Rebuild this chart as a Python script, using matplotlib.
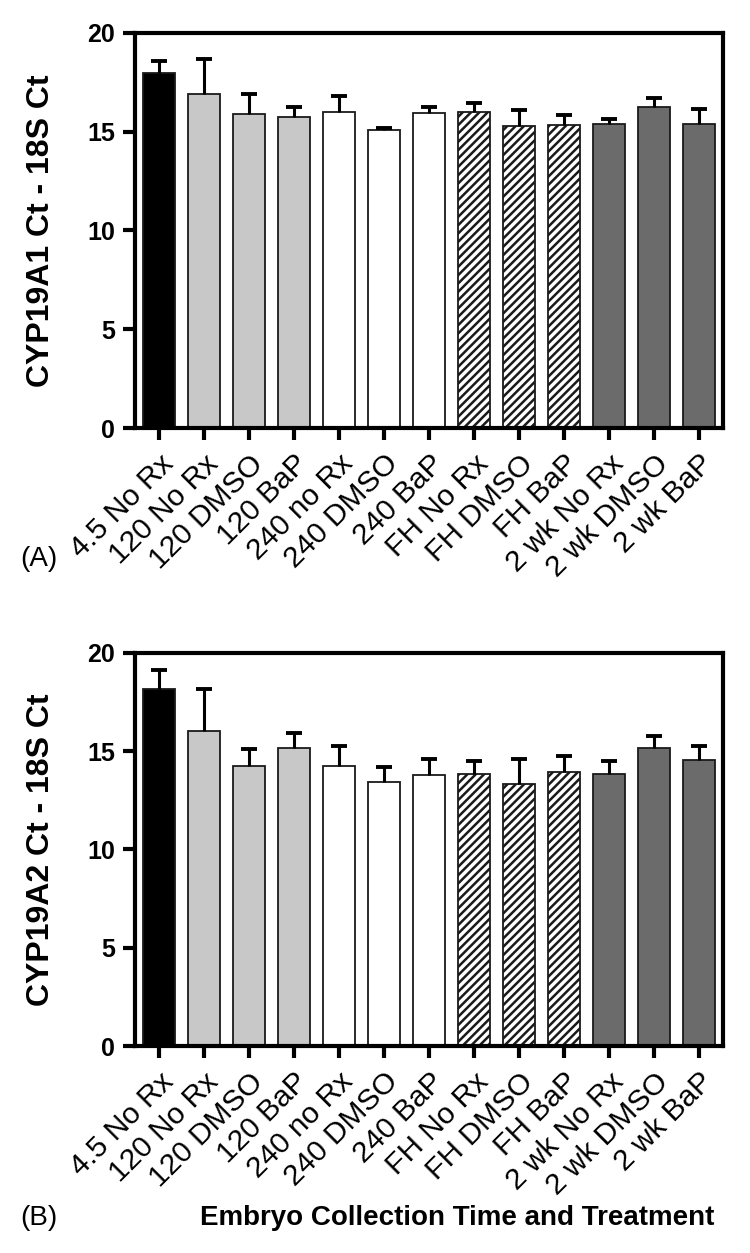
import numpy as np
import matplotlib
matplotlib.use('Agg')
import matplotlib.pyplot as plt

plt.rcParams['font.family'] = ['Liberation Sans', 'DejaVu Sans']
plt.rcParams['hatch.linewidth'] = 1.8
plt.rcParams['hatch.color'] = '#222222'

labels = ['4.5 No Rx', '120 No Rx', '120 DMSO', '120 BaP', '240 no Rx',
          '240 DMSO', '240 BaP', 'FH No Rx', 'FH DMSO', 'FH BaP',
          '2 wk No Rx', '2 wk DMSO', '2 wk BaP']

# panel A, CYP19A1
a1_mean = [17.95, 16.9, 15.9, 15.75, 16.0, 15.1, 15.95, 16.0, 15.3, 15.35, 15.4, 16.25, 15.4]
a1_err = [0.65, 1.8, 1.0, 0.5, 0.8, 0.1, 0.3, 0.45, 0.8, 0.5, 0.25, 0.45, 0.75]

# panel B, CYP19A2
a2_mean = [18.15, 16.05, 14.25, 15.15, 14.25, 13.45, 13.8, 13.85, 13.35, 13.95, 13.85, 15.15, 14.55]
a2_err = [1.0, 2.1, 0.85, 0.8, 1.0, 0.75, 0.8, 0.65, 1.25, 0.8, 0.65, 0.6, 0.7]

face = ['black', '#c8c8c8', '#c8c8c8', '#c8c8c8', 'white', 'white', 'white',
        'white', 'white', 'white', '#6b6b6b', '#6b6b6b', '#6b6b6b']
hatch = ['', '', '', '', '', '', '', '////', '////', '////', '', '', '']

fig = plt.figure(figsize=(7.5, 12.53), dpi=100)
axA = fig.add_axes([0.18, 0.6584, 0.784, 0.3153])
axB = fig.add_axes([0.18, 0.1652, 0.784, 0.3137])


def panel(ax, mean, err, ylab):
    x = np.arange(len(mean))
    ax.bar(x, mean, width=0.72, color=face, edgecolor='#1a1a1a',
           linewidth=1.3, hatch=hatch, zorder=2)
    eb = ax.errorbar(x, mean, yerr=[np.zeros(len(err)), err], fmt='none',
                     ecolor='black', elinewidth=2.2, capsize=6, capthick=2.8, zorder=3)
    eb[1][0].remove()  # no cap on the lower side
    ax.set_xlim(-0.53, len(mean) - 0.47)
    ax.set_ylim(0, 20)
    ax.set_yticks([0, 5, 10, 15, 20])
    ax.set_xticks(x)
    ax.set_xticklabels(labels, rotation=45, ha='right', va='top',
                       rotation_mode='anchor', fontsize=21.5)
    for lab in ax.get_yticklabels():
        lab.set_fontweight('bold')
        lab.set_fontsize(18)
    ax.tick_params(axis='both', direction='out', length=8.5, width=3, pad=6)
    ax.tick_params(axis='x', pad=7)
    for s in ax.spines.values():
        s.set_linewidth(3)
    ax.set_ylabel(ylab, fontsize=23, fontweight='bold')
    ax.yaxis.set_label_coords(-0.135, 0.5)


panel(axA, a1_mean, a1_err, 'CYP19A1 Ct - 18S Ct')
panel(axB, a2_mean, a2_err, 'CYP19A2 Ct - 18S Ct')
axB.set_xlabel('Embryo Collection Time and Treatment', fontsize=20,
               fontweight='bold')
axB.xaxis.label.set_va('center')
axB.xaxis.set_label_coords(0.548, -0.437)

fig.text(0.027, 0.5535, '(A)', fontsize=20, va='center')
fig.text(0.027, 0.028, '(B)', fontsize=20, va='center')

fig.savefig('out.png', dpi=100)
